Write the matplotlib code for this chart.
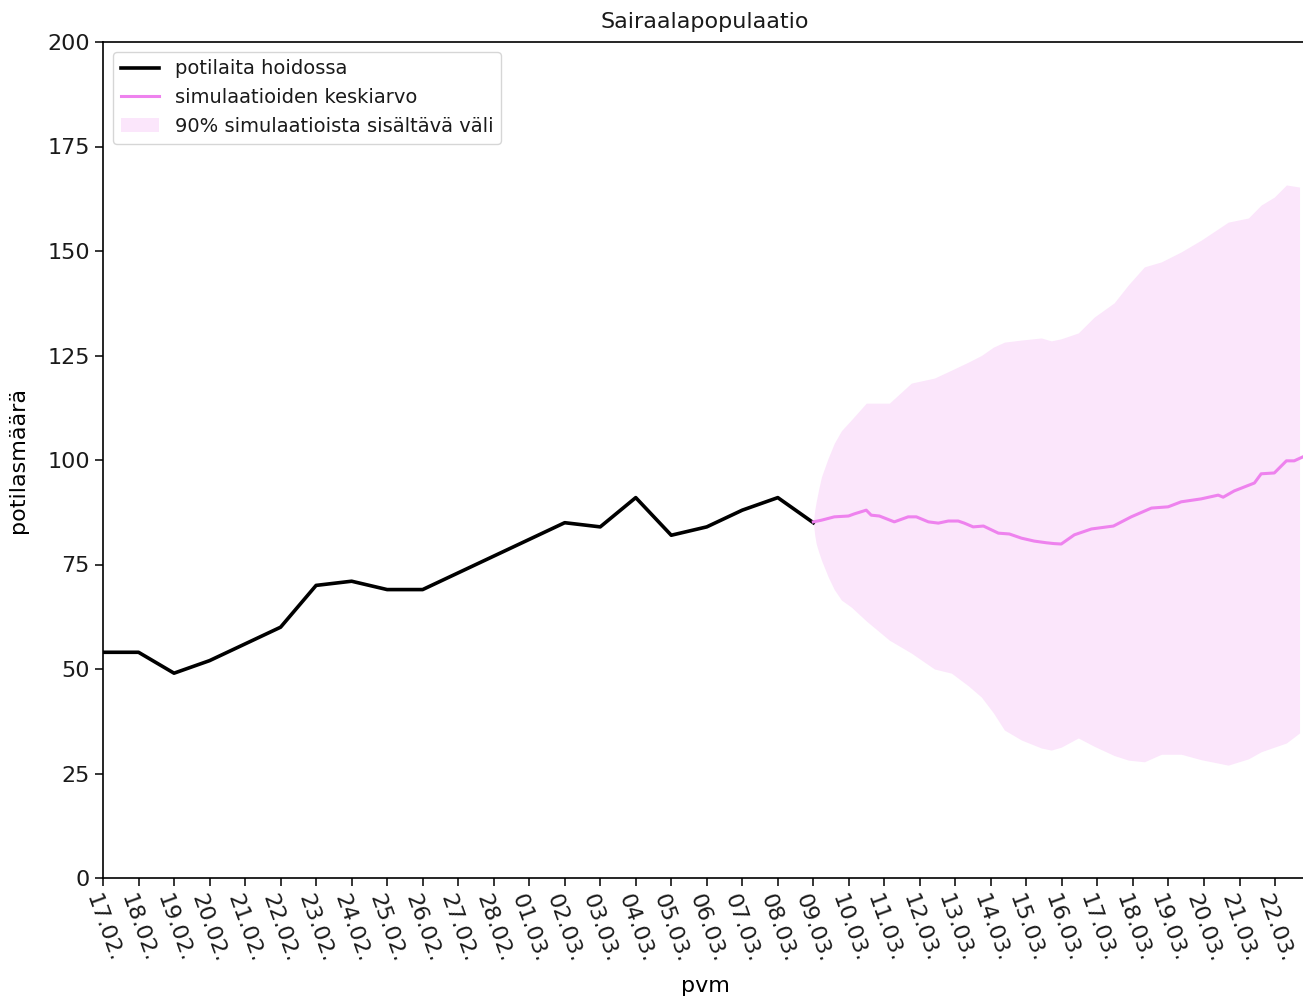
import matplotlib

matplotlib.use("Agg")
import matplotlib.pyplot as plt
import matplotlib.dates as mdates
import numpy as np
import pandas as pd

# observed patients in hospital, daily from 17.02.2021
obs_start = "2021-02-17"
obs_values = [54, 54, 49, 52, 56, 60, 70, 71, 69, 69, 73,
              77, 81, 85, 84, 91, 82, 84, 88, 91, 85]

# simulation start (09.03.) and offsets in days after it
sim_start = "2021-03-09"
mean_offsets = [0.00, 0.23, 0.59, 0.99, 1.15, 1.49, 1.63, 1.86, 2.28, 2.67,
                2.90, 3.24, 3.52, 3.80, 4.08, 4.25, 4.50, 4.79, 5.21, 5.52,
                5.86, 6.22, 6.56, 6.78, 6.98, 7.35, 7.83, 8.45, 8.95, 9.52,
                9.99, 10.36, 10.92, 11.40, 11.54, 11.85, 12.42, 12.61, 12.98,
                13.32, 13.54, 13.90]
mean_values = [85.2, 85.6, 86.4, 86.6, 87.1, 88.0, 86.8, 86.6, 85.2, 86.4,
               86.4, 85.2, 84.9, 85.4, 85.4, 84.9, 84.0, 84.2, 82.5, 82.3,
               81.3, 80.6, 80.2, 80.0, 79.9, 82.1, 83.5, 84.2, 86.4, 88.5,
               88.8, 90.0, 90.7, 91.6, 91.1, 92.6, 94.5, 96.7, 96.9,
               99.8, 99.8, 101.2]

band_offsets = [0.00, 0.04, 0.08, 0.15, 0.23, 0.42, 0.59, 0.79, 1.07, 1.49,
                2.14, 2.76, 3.41, 3.89, 4.36, 4.73, 5.07, 5.38, 5.86, 6.42,
                6.70, 6.98, 7.46, 7.91, 8.47, 8.87, 9.32, 9.80, 10.36, 10.92,
                11.68, 12.25, 12.61, 12.98, 13.32, 13.69]
band_upper = [85.0, 88.0, 90.0, 93.0, 96.0, 100.5, 104.0, 107.0, 109.6,
              113.6, 113.6, 118.4, 119.6, 121.5, 123.4, 125.0, 127.0, 128.2,
              128.7, 129.2, 128.5, 129.0, 130.4, 134.2, 137.6, 141.9, 146.2,
              147.4, 149.8, 152.6, 156.9, 157.9, 161.0, 162.9, 165.8, 165.3]
band_lower = [85.0, 82.0, 80.0, 78.0, 76.0, 72.0, 69.0, 66.5, 64.8, 61.5,
              56.9, 53.8, 50.0, 49.0, 46.0, 43.3, 39.5, 35.4, 33.0, 31.1,
              30.6, 31.3, 33.5, 31.5, 29.3, 28.2, 27.8, 29.6, 29.6, 28.3,
              27.0, 28.5, 30.2, 31.3, 32.3, 34.7]


def main():
    plt.rcParams.update(
        {
            "font.family": "DejaVu Sans",
            "font.size": 16,
            "axes.titlesize": 16,
            "axes.labelsize": 16,
            "xtick.labelsize": 16,
            "ytick.labelsize": 16,
            "legend.fontsize": 14,
            "axes.linewidth": 1.2,
            "text.color": "#1a1a1a",
            "xtick.labelcolor": "#1a1a1a",
            "ytick.labelcolor": "#1a1a1a",
        }
    )

    obs_dates = pd.date_range(obs_start, periods=len(obs_values), freq="D")
    t0 = pd.Timestamp(sim_start)
    mean_dates = t0 + pd.to_timedelta(mean_offsets, unit="D")
    band_dates = t0 + pd.to_timedelta(band_offsets, unit="D")

    fig = plt.figure(figsize=(13.03, 9.98), dpi=100)
    ax = fig.add_axes([103 / 1303, 120 / 998, 1204 / 1303, 836 / 998])

    ax.plot(obs_dates, obs_values, color="black", linewidth=2.6,
            label="potilaita hoidossa")
    ax.plot(mean_dates, mean_values, color="violet", linewidth=2.2,
            label="simulaatioiden keskiarvo")
    ax.fill_between(band_dates, band_lower, band_upper, color="violet",
                    alpha=0.2, linewidth=0,
                    label="90% simulaatioista sisältävä väli")

    ax.set_ylim(0, 200)
    ax.set_yticks(np.arange(0, 201, 25))
    start = pd.Timestamp(obs_start)
    ax.set_xlim(start, start + pd.Timedelta(days=33.9))
    ax.xaxis.set_major_locator(mdates.DayLocator())
    ax.xaxis.set_major_formatter(mdates.DateFormatter("%d.%m."))
    plt.setp(ax.get_xticklabels(), rotation=-70, ha="center")

    ax.set_title("Sairaalapopulaatio", pad=10)
    ax.set_xlabel("pvm", labelpad=8)
    ax.set_ylabel("potilasmäärä", labelpad=14)
    ax.spines["right"].set_visible(False)
    ax.tick_params(length=6, width=1.1)

    ax.legend(loc="upper left")

    fig.savefig("out.png", dpi=100)


if __name__ == "__main__":
    main()
